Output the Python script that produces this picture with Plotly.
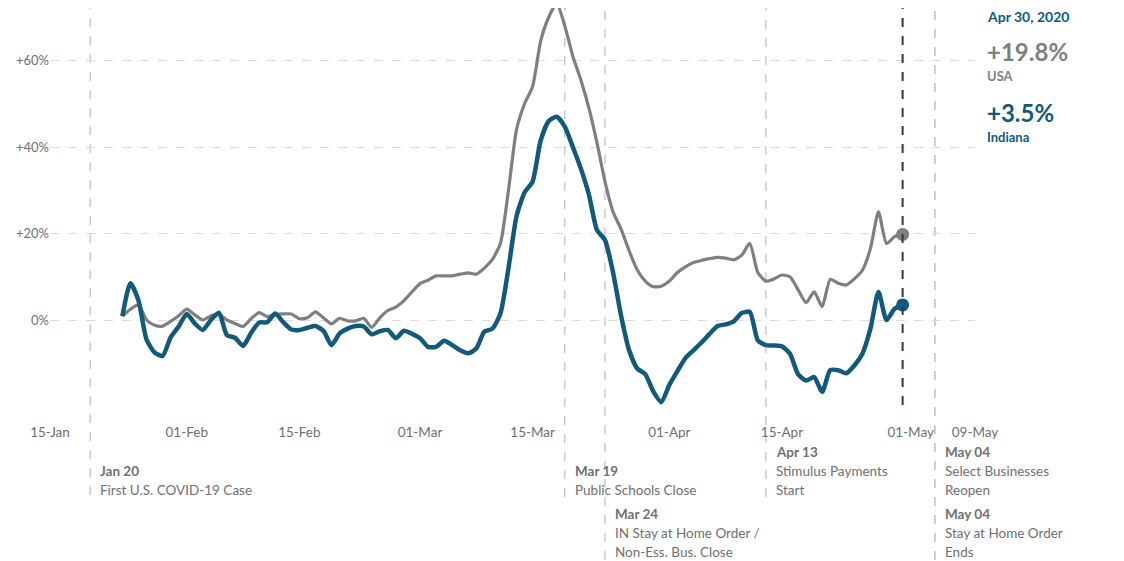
import pandas as pd
import plotly.graph_objects as go

# daily % change vs baseline, Jan 24 - Apr 30 2020
dates = pd.date_range("2020-01-24", "2020-04-30", freq="D")

usa = [
    0.9, 2.5, 3.5, 0, -1.2, -1.4, -0.3, 1,
    2.5, 1.2, 0, 1, 1.3, 0, -0.8, -1.5, 0.3, 1.7, 0.8, 1.3, 1.4, 1.4, 0.3,
    0.5, 1.9, 0.5, -0.9, 0.4, -0.2, -0.2, 0.4, -1.7, 0.5, 2.2, 3.0, 4.5, 6.5,
    8.4, 9.2, 10.2, 10.2, 10.2, 10.6, 10.9, 10.6, 12, 14, 17.7, 30, 44, 50,
    54, 64.5, 70, 73.2, 68, 61, 55.5, 49, 41, 32, 25, 21, 16, 11.6, 9, 7.7, 7.8,
    9, 11, 12.3, 13.3, 13.8, 14.2, 14.5, 14.3, 13.9, 15, 17.7, 11, 9, 9.5, 10.4,
    10, 7, 4, 6.5, 3.1, 9.4, 8.5, 8.1, 9.5, 11.5, 16.5, 25, 17.7, 19.3, 19.8,
]

indiana = [
    0.9, 8.5, 4.5, -4.5, -7.5, -8.3, -4.0, -1.5,
    1.4, -0.8, -2.3, 0, 1.7, -3.5, -4.1, -6, -3, -0.6, -0.5, 1.5, -0.5, -2.2,
    -2.3, -1.8, -1.4, -2.5, -5.8, -3.1, -2, -1.4, -1.5, -3.3, -2.6, -2.3, -4.2,
    -2.5, -3.2,
    -4.2, -6.2, -6.2, -4.8, -5.8, -7, -7.7, -6.6, -2.7, -2.0, 1.5, 12, 24, 29.5,
    32, 41.5, 46, 47, 44.7, 40, 35, 29, 20.8, 18.5, 11, 1, -7, -11.2, -12.5,
    -16.5, -19,
    -15, -11.8, -8.8, -7, -5.2, -3.2, -1.4, -1, -0.3, 1.6, 1.9, -4.7, -5.8, -5.9,
    -6.1, -7.8, -12.5, -14, -13.2, -16.6, -11.6, -11.6, -12.3, -10.5, -7.8, -2,
    6.5, 0, 2.6, 3.5,
]

tick_dates = ["2020-01-15", "2020-02-01", "2020-02-15", "2020-03-01", "2020-03-15",
              "2020-04-01", "2020-04-15", "2020-05-01", "2020-05-09"]
tick_text = ["15-Jan", "01-Feb", "15-Feb", "01-Mar", "15-Mar",
             "01-Apr", "15-Apr", "01-May", "09-May"]

y_ticks = [0, 20, 40, 60]
y_tick_text = ["0%", "+20%", "+40%", "+60%"]

# events: date, bold label, description lines, first-line centre (page px), line bottom (page px)
events = [
    ("2020-01-20", "Jan 20", ["First U.S. COVID-19 Case"], 471, 495),
    ("2020-03-19", "Mar 19", ["Public Schools Close"], 471, 497),
    ("2020-03-24", "Mar 24", ["IN Stay at Home Order /", "Non-Ess. Bus. Close"], 514, 560),
    ("2020-04-13", "Apr 13", ["Stimulus Payments", "Start"], 452, 497),
    ("2020-05-04", "May 04", ["Select Businesses", "Reopen"], 452, 560),
    ("2020-05-04", "May 04", ["Stay at Home Order", "Ends"], 514, 560),
]

BLUE = "#125a7c"
GRAY = "#7f7f7f"
TEXT = "#707070"
FONT = "Lato"

# the page sits 8px in from the window corner; plot area spans page px 50..975 x 8..422
PLOT_H = 414


def py(p):
    return (422 - p) / PLOT_H


fig = go.Figure()

fig.add_trace(go.Scatter(
    x=dates, y=usa, mode="lines",
    line=dict(color=GRAY, width=3.2, shape="spline", smoothing=0.6),
    name="USA",
))
fig.add_trace(go.Scatter(
    x=dates, y=indiana, mode="lines",
    line=dict(color=BLUE, width=4.5, shape="spline", smoothing=0.6),
    name="Indiana",
))
# end markers
fig.add_trace(go.Scatter(
    x=[dates[-1]], y=[usa[-1]], mode="markers",
    marker=dict(color=GRAY, size=13), name="USA end",
))
fig.add_trace(go.Scatter(
    x=[dates[-1]], y=[indiana[-1]], mode="markers",
    marker=dict(color=BLUE, size=13), name="Indiana end",
))

# event lines and labels
for d, lab, desc, ytop, ybot in events:
    fig.add_shape(type="line", xref="x", yref="paper", x0=d, x1=d, y0=py(ybot), y1=1.03,
                  line=dict(color="#c4c4c4", width=1.3, dash="dash"), layer="below")
    for i, line in enumerate([f"<b>{lab}</b>"] + desc):
        fig.add_annotation(
            x=d, y=py(ytop + 19 * i), xref="x", yref="paper",
            xanchor="left", yanchor="middle", xshift=8, showarrow=False,
            text=line, font=dict(family=FONT, size=13.5, color=TEXT),
        )

# latest-date line
last = dates[-1]
fig.add_shape(type="line", xref="x", yref="paper", x0=last, x1=last, y0=py(405), y1=1.03,
              line=dict(color="#1e3f50", width=2, dash="dash"))

right_x = (985 - 50) / 925
right_labels = [
    ("<b>Apr 30, 2020</b>", 17, 14, BLUE),
    (f"<b>+{usa[-1]:.1f}%</b>", 51, 24, GRAY),
    ("<b>USA</b>", 76, 13, GRAY),
    (f"<b>+{indiana[-1]:.1f}%</b>", 112, 24, BLUE),
    ("<b>Indiana</b>", 137, 13, BLUE),
]
for txt, p, size, col in right_labels:
    fig.add_annotation(x=right_x, y=py(p), xref="paper", yref="paper",
                       xanchor="left", yanchor="middle", showarrow=False, text=txt,
                       font=dict(family=FONT, size=size, color=col))

fig.update_layout(
    width=1124, height=561,
    margin=dict(l=42, r=157, t=0, b=147),
    plot_bgcolor="white", paper_bgcolor="white",
    showlegend=False,
    font=dict(family=FONT, size=13, color=TEXT),
    xaxis=dict(
        range=["2020-01-15", "2020-05-09"],
        tickvals=tick_dates, ticktext=tick_text,
        showgrid=False, zeroline=False, showline=False, ticks="",
        tickfont=dict(size=13.5, color=TEXT),
    ),
    yaxis=dict(
        range=[-23.58, 72.14],
        tickvals=y_ticks, ticktext=y_tick_text,
        showgrid=True, gridcolor="#dcdcdc", griddash="dash", gridwidth=1,
        zeroline=False, showline=False, ticks="",
        tickfont=dict(size=13, color=TEXT),
    ),
)

fig.write_html("out.html")
